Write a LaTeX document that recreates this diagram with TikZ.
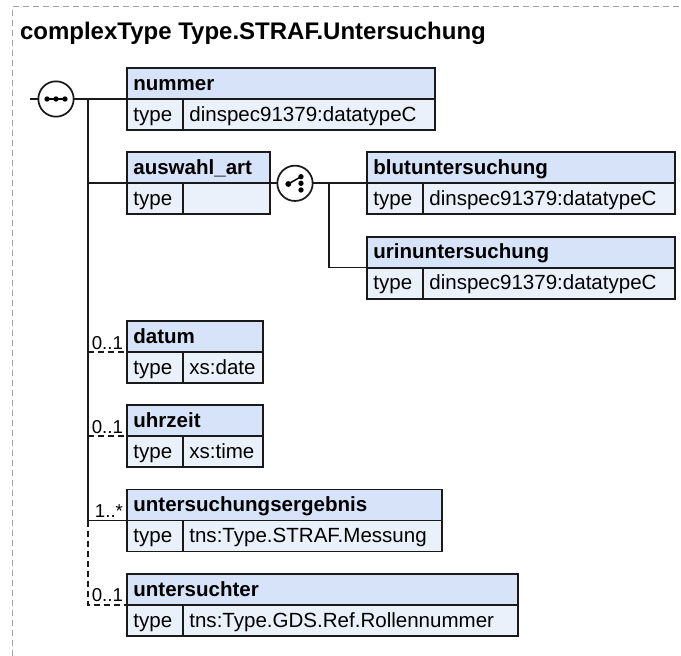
\documentclass[tikz,border=0pt]{standalone}
\usepackage{fontspec}
\setmainfont{Liberation Sans}
\usepackage{tikz}
\usetikzlibrary{positioning}
\definecolor{Edge}{HTML}{1A1A1A}
\definecolor{HeadFill}{HTML}{D6E3F8}
\definecolor{TypeFill}{HTML}{EBF1FB}
\definecolor{Frame}{HTML}{A0A0A0}

\begin{document}
\begin{tikzpicture}[
  x=0.75pt,y=-0.75pt,
  every node/.style={font=\fontsize{15.4}{18}\selectfont,outer sep=0pt},
  elemhead/.style={draw=Edge,fill=HeadFill,line width=1.4pt,font=\fontsize{15.4}{18}\selectfont\bfseries,text width=#1,align=left,inner xsep=5pt,inner ysep=0pt,minimum height=23.25pt,text height=12.6pt,text depth=2.4pt},
  typecell/.style={draw=Edge,fill=TypeFill,line width=1.4pt,text width=#1,align=left,inner xsep=5pt,inner ysep=0pt,minimum height=23.25pt,text height=12.6pt,text depth=2.4pt},
  compositor/.style={circle,draw=Edge,fill=white,line width=1.3pt,minimum size=26.5pt,inner sep=0pt},
  mult/.style={font=\fontsize{14}{16}\selectfont,inner sep=0pt,anchor=south east},
  wire/.style={line width=1.3pt,draw=Edge},
  optwire/.style={wire,dash pattern=on 4.5pt off 3pt}
]
\useasboundingbox (0,0) rectangle (681,656);
\draw[Frame,line width=0.75pt,dash pattern=on 4.5pt off 3pt] (12,656) -- (12,7) -- (681,7);
\node[anchor=base west,inner sep=0pt,font=\fontsize{18}{22}\selectfont\bfseries] (title) at (20,39.5) {complexType Type.STRAF.Untersuchung};

% elements of the sequence
\node[elemhead=221.4pt,anchor=north west] (nummer) at (126.7,68) {nummer};
\node[typecell=32pt,below right=0pt of nummer.south west] (nummer-l) {type};
\node[typecell=179.4pt,right=0pt of nummer-l] (nummer-v) {dinspec91379:datatypeC};

\node[elemhead=97.5pt,anchor=north west] (auswahl) at (126.7,152.3) {auswahl\_art};
\node[typecell=32pt,below right=0pt of auswahl.south west] (auswahl-l) {type};
\node[typecell=55.5pt,right=0pt of auswahl-l] (auswahl-v) {};

\node[elemhead=92pt,anchor=north west] (datum) at (126.7,320.9) {datum};
\node[typecell=32pt,below right=0pt of datum.south west] (datum-l) {type};
\node[typecell=50pt,right=0pt of datum-l] (datum-v) {xs:date};

\node[elemhead=92pt,anchor=north west] (uhrzeit) at (126.7,405.2) {uhrzeit};
\node[typecell=32pt,below right=0pt of uhrzeit.south west] (uhrzeit-l) {type};
\node[typecell=50pt,right=0pt of uhrzeit-l] (uhrzeit-v) {xs:time};

\node[elemhead=226.25pt,anchor=north west] (ergebnis) at (126.7,489.5) {untersuchungsergebnis};
\node[typecell=32pt,below right=0pt of ergebnis.south west] (ergebnis-l) {type};
\node[typecell=184.25pt,right=0pt of ergebnis-l] (ergebnis-v) {tns:Type.STRAF.Messung};

\node[elemhead=283.7pt,anchor=north west] (untersuchter) at (126.7,573.8) {untersuchter};
\node[typecell=32pt,below right=0pt of untersuchter.south west] (untersuchter-l) {type};
\node[typecell=241.7pt,right=0pt of untersuchter-l] (untersuchter-v) {tns:Type.GDS.Ref.Rollennummer};

% elements of the choice
\node[elemhead=221.4pt,anchor=north west] (blut) at (366.7,152.3) {blutuntersuchung};
\node[typecell=32pt,below right=0pt of blut.south west] (blut-l) {type};
\node[typecell=179.4pt,right=0pt of blut-l] (blut-v) {dinspec91379:datatypeC};

\node[elemhead=221.4pt,anchor=north west] (urin) at (366.7,236.6) {urinuntersuchung};
\node[typecell=32pt,below right=0pt of urin.south west] (urin-l) {type};
\node[typecell=179.4pt,right=0pt of urin-l] (urin-v) {dinspec91379:datatypeC};

% sequence compositor
\coordinate (lead) at (30,99);
\node[compositor] (seq) at (56,99) {};
\coordinate (bus) at (88,99);
\draw[wire] (lead) -- (seq.west);
\draw[wire] (seq.east) -- (nummer.south west);
\draw[wire] (bus) -- (bus |- ergebnis.south west) -- (ergebnis.south west);
\draw[wire] (bus |- auswahl.south west) -- (auswahl.south west);
\draw[optwire] (bus |- datum.south west) -- (datum.south west);
\draw[optwire] (bus |- uhrzeit.south west) -- (uhrzeit.south west);
\draw[optwire] (bus |- ergebnis.south west) |- (untersuchter.south west);
\begin{scope}[shift={(seq.center)}]
  \draw[line width=1.1pt] (-9,0) -- (9,0);
  \fill (-9,0) circle[radius=2pt];
  \fill (0,0) circle[radius=2pt];
  \fill (9,0) circle[radius=2pt];
\end{scope}

% choice compositor
\node[compositor] (choice) at (295,183.3) {};
\coordinate (fork) at (329,183.3);
\draw[wire] (auswahl.south east) -- (choice.west);
\draw[wire] (choice.east) -- (blut.south west);
\draw[wire] (fork) |- (urin.south west);
\begin{scope}[shift={(choice.center)}]
  \draw[line width=1.1pt] (-6.7,0.7) -- (6,-6.6);
  \fill (-6.7,0.7) circle[radius=2.2pt];
  \fill (6,-6.6) circle[radius=2pt];
  \fill (6,0) circle[radius=2pt];
  \fill (6,6.7) circle[radius=2pt];
\end{scope}

% multiplicities
\node[mult] (datum-m) at ([xshift=-2.8pt,yshift=2pt]datum.south west) {0..1};
\node[mult] (uhrzeit-m) at ([xshift=-2.8pt,yshift=2pt]uhrzeit.south west) {0..1};
\node[mult] (ergebnis-m) at ([xshift=-2.8pt,yshift=2pt]ergebnis.south west) {1..*};
\node[mult] (untersuchter-m) at ([xshift=-2.8pt,yshift=2pt]untersuchter.south west) {0..1};
\end{tikzpicture}
\end{document}
